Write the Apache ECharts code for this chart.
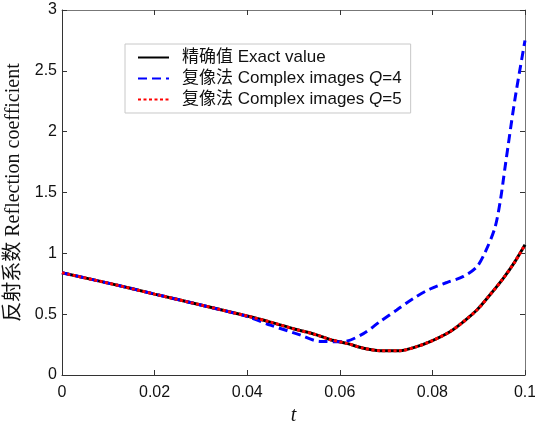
<!DOCTYPE html>
<html>
<head>
<meta charset="utf-8">
<script src="https://cdn.jsdelivr.net/npm/echarts@6/dist/echarts.min.js"></script>
<style>
html,body{margin:0;padding:0;background:#fff;}
#chart{width:535px;height:421px;}
</style>
</head>
<body>
<div id="chart"></div>
<script>
// ---- data ----
var tExact = [0, 0.01, 0.02, 0.03, 0.04, 0.045, 0.05, 0.055, 0.058, 0.0615, 0.0651, 0.0687, 0.073, 0.0766, 0.0795, 0.0838, 0.0867, 0.0896, 0.0924, 0.0953, 0.0978, 0.1];
var exactValues = [0.84, 0.755, 0.665, 0.575, 0.485, 0.435, 0.38, 0.33, 0.29, 0.26, 0.22, 0.20, 0.20, 0.233, 0.274, 0.356, 0.438, 0.534, 0.657, 0.794, 0.93, 1.07];

var tQ4 = [0, 0.01, 0.02, 0.03, 0.04, 0.045, 0.0514, 0.0557, 0.0607, 0.0651, 0.0687, 0.0723, 0.0759, 0.0795, 0.0831, 0.0867, 0.0896, 0.0914, 0.0935, 0.0947, 0.0957, 0.0978, 0.1];
var q4Values = [0.84, 0.755, 0.665, 0.575, 0.48, 0.41, 0.33, 0.276, 0.274, 0.34, 0.44, 0.534, 0.63, 0.707, 0.76, 0.81, 0.89, 1.01, 1.21, 1.44, 1.71, 2.26, 2.75];

var tQ5 = [0, 0.01, 0.02, 0.03, 0.04, 0.045, 0.05, 0.055, 0.058, 0.0615, 0.0651, 0.0687, 0.073, 0.0766, 0.0795, 0.0838, 0.0867, 0.0896, 0.0924, 0.0953, 0.0978, 0.1];
var q5Values = [0.84, 0.755, 0.665, 0.575, 0.485, 0.435, 0.38, 0.33, 0.29, 0.26, 0.22, 0.20, 0.20, 0.233, 0.274, 0.356, 0.438, 0.534, 0.657, 0.794, 0.93, 1.07];

var seriesNames = ['精确值 Exact value', '复像法 Complex images Q=4', '复像法 Complex images Q=5'];
var legendLabels = ['精确值 Exact value', '复像法 Complex images {i|Q}=4', '复像法 Complex images {i|Q}=5'];

function pairs(t, v) { return t.map(function (x, i) { return [x, v[i]]; }); }

var chart = echarts.init(document.getElementById('chart'), null, {renderer: 'canvas'});
var axisColor = '#333';
var frameColor = '#777';
var tickStyle = {show: true, inside: true, length: 5, lineStyle: {color: axisColor, width: 1}};
var lineAxis = {show: true, onZero: false, lineStyle: {color: axisColor, width: 1}};
var frameLine = {show: true, onZero: false, lineStyle: {color: frameColor, width: 1}};

chart.setOption({
  animation: false,
  backgroundColor: '#fff',
  grid: {left: 62, right: 10, top: 10, bottom: 46, show: false, containLabel: false, outerBoundsMode: 'none'},
  legend: {
    left: 125, top: 44, orient: 'vertical',
    backgroundColor: '#fff', borderColor: '#c8c8c8', borderWidth: 1,
    padding: [5, 9, 5, 12], itemGap: 4, itemWidth: 31, itemHeight: 14,
    itemStyle: {opacity: 0},
    data: seriesNames,
    formatter: function (name) { return legendLabels[seriesNames.indexOf(name)]; },
    textStyle: {
      fontFamily: 'Liberation Sans, Arial, Noto Sans CJK SC, sans-serif', fontSize: 17, color: '#111',
      padding: [0, 0, 0, 8],
      rich: {i: {fontStyle: 'italic', fontFamily: 'Liberation Sans, Arial, sans-serif', fontSize: 17, color: '#111'}}
    }
  },
  xAxis: [{
    type: 'value', min: 0, max: 0.1, interval: 0.02, position: 'bottom',
    name: 't', nameLocation: 'middle', nameGap: 27,
    nameTextStyle: {fontFamily: 'Liberation Serif, Times New Roman, serif', fontStyle: 'italic', fontSize: 20, color: '#111'},
    axisLine: lineAxis, axisTick: tickStyle,
    axisLabel: {margin: 10, fontFamily: 'Liberation Sans, Arial, sans-serif', fontSize: 16, color: '#111',
      formatter: function (v) { return String(+v.toFixed(2)); }},
    splitLine: {show: false}
  }, {
    type: 'value', min: 0, max: 0.1, interval: 0.02, position: 'top',
    axisLine: frameLine, axisTick: tickStyle,
    axisLabel: {show: false}, splitLine: {show: false}
  }],
  yAxis: [{
    type: 'value', min: 0, max: 3, interval: 0.5, position: 'left',
    name: '反射系数 Reflection coefficient', nameLocation: 'middle', nameGap: 35, nameRotate: 90,
    nameTextStyle: {fontFamily: 'Liberation Serif, Times New Roman, Noto Sans CJK SC, serif', fontSize: 20, color: '#111'},
    axisLine: lineAxis, axisTick: tickStyle,
    axisLabel: {margin: 5, fontFamily: 'Liberation Sans, Arial, sans-serif', fontSize: 16, color: '#111'},
    splitLine: {show: false}
  }, {
    type: 'value', min: 0, max: 3, interval: 0.5, position: 'right',
    axisLine: frameLine, axisTick: tickStyle,
    axisLabel: {show: false}, splitLine: {show: false}
  }],
  series: [{
    name: seriesNames[0], type: 'line', smooth: 0.3, symbol: 'none',
    data: pairs(tExact, exactValues),
    lineStyle: {color: '#000', width: 3, type: 'solid'}, itemStyle: {color: '#000'}, z: 2
  }, {
    name: seriesNames[1], type: 'line', smooth: 0.3, symbol: 'none',
    data: pairs(tQ4, q4Values),
    lineStyle: {color: '#0000ff', width: 3, type: [9, 5]}, itemStyle: {color: '#0000ff'}, z: 3
  }, {
    name: seriesNames[2], type: 'line', smooth: 0.3, symbol: 'none',
    data: pairs(tQ5, q5Values),
    lineStyle: {color: '#ff0000', width: 3, type: [3, 2.5]}, itemStyle: {color: '#ff0000'}, z: 4
  }, {
    name: 'frame', type: 'line', xAxisIndex: 1, yAxisIndex: 1, symbol: 'none', silent: true,
    data: [], lineStyle: {opacity: 0}
  }]
});
</script>
</body>
</html>
